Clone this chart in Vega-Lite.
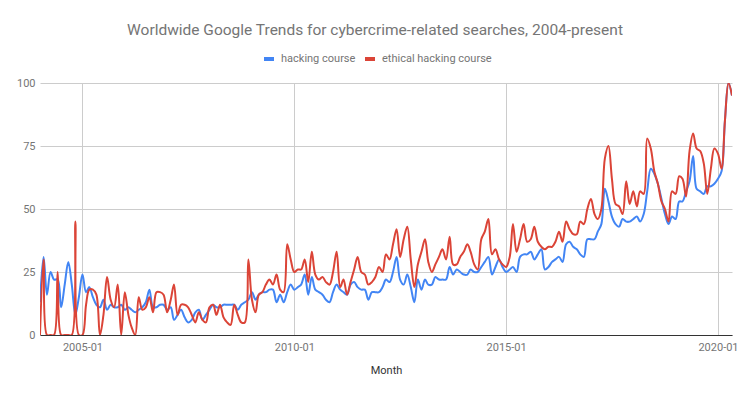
{
  "$schema": "https://vega.github.io/schema/vega-lite/v6.json",
  "width": 692,
  "height": 252,
  "autosize": {"type": "none"},
  "padding": {"left": 40, "top": 83, "right": 18, "bottom": 62},
  "background": "white",
  "title": {
    "text": "Worldwide Google Trends for cybercrime-related searches, 2004-present",
    "font": "Roboto",
    "fontSize": 15.5,
    "fontWeight": "normal",
    "color": "#757575",
    "anchor": "middle",
    "dx": -11,
    "offset": 14
  },
  "data": {
    "values": [
      {"month": "2004-01-01", "hacking course": 13, "ethical hacking course": 0},
      {"month": "2004-02-01", "hacking course": 31, "ethical hacking course": 30},
      {"month": "2004-03-01", "hacking course": 16, "ethical hacking course": 0},
      {"month": "2004-04-01", "hacking course": 25, "ethical hacking course": 0},
      {"month": "2004-05-01", "hacking course": 22, "ethical hacking course": 0},
      {"month": "2004-06-01", "hacking course": 22, "ethical hacking course": 25},
      {"month": "2004-07-01", "hacking course": 11, "ethical hacking course": 0},
      {"month": "2004-08-01", "hacking course": 20, "ethical hacking course": 0},
      {"month": "2004-09-01", "hacking course": 29, "ethical hacking course": 0},
      {"month": "2004-10-01", "hacking course": 20, "ethical hacking course": 0},
      {"month": "2004-11-01", "hacking course": 8, "ethical hacking course": 45},
      {"month": "2004-12-01", "hacking course": 15, "ethical hacking course": 0},
      {"month": "2005-01-01", "hacking course": 24, "ethical hacking course": 0},
      {"month": "2005-02-01", "hacking course": 17, "ethical hacking course": 12},
      {"month": "2005-03-01", "hacking course": 19, "ethical hacking course": 18},
      {"month": "2005-04-01", "hacking course": 15, "ethical hacking course": 18},
      {"month": "2005-05-01", "hacking course": 12, "ethical hacking course": 16},
      {"month": "2005-06-01", "hacking course": 11, "ethical hacking course": 0},
      {"month": "2005-07-01", "hacking course": 14, "ethical hacking course": 8},
      {"month": "2005-08-01", "hacking course": 10, "ethical hacking course": 23},
      {"month": "2005-09-01", "hacking course": 12, "ethical hacking course": 14},
      {"month": "2005-10-01", "hacking course": 11, "ethical hacking course": 11},
      {"month": "2005-11-01", "hacking course": 11, "ethical hacking course": 20},
      {"month": "2005-12-01", "hacking course": 12, "ethical hacking course": 0},
      {"month": "2006-01-01", "hacking course": 10, "ethical hacking course": 17},
      {"month": "2006-02-01", "hacking course": 11, "ethical hacking course": 8},
      {"month": "2006-03-01", "hacking course": 10, "ethical hacking course": 3},
      {"month": "2006-04-01", "hacking course": 9, "ethical hacking course": 0},
      {"month": "2006-05-01", "hacking course": 10, "ethical hacking course": 15},
      {"month": "2006-06-01", "hacking course": 11, "ethical hacking course": 10},
      {"month": "2006-07-01", "hacking course": 13, "ethical hacking course": 11},
      {"month": "2006-08-01", "hacking course": 18, "ethical hacking course": 15},
      {"month": "2006-09-01", "hacking course": 11, "ethical hacking course": 9},
      {"month": "2006-10-01", "hacking course": 11, "ethical hacking course": 17},
      {"month": "2006-11-01", "hacking course": 12, "ethical hacking course": 17},
      {"month": "2006-12-01", "hacking course": 12, "ethical hacking course": 16},
      {"month": "2007-01-01", "hacking course": 10, "ethical hacking course": 9},
      {"month": "2007-02-01", "hacking course": 11, "ethical hacking course": 14},
      {"month": "2007-03-01", "hacking course": 6, "ethical hacking course": 20},
      {"month": "2007-04-01", "hacking course": 8, "ethical hacking course": 8},
      {"month": "2007-05-01", "hacking course": 10, "ethical hacking course": 12},
      {"month": "2007-06-01", "hacking course": 7, "ethical hacking course": 12},
      {"month": "2007-07-01", "hacking course": 5, "ethical hacking course": 11},
      {"month": "2007-08-01", "hacking course": 6, "ethical hacking course": 8},
      {"month": "2007-09-01", "hacking course": 9, "ethical hacking course": 5},
      {"month": "2007-10-01", "hacking course": 10, "ethical hacking course": 9},
      {"month": "2007-11-01", "hacking course": 6, "ethical hacking course": 6},
      {"month": "2007-12-01", "hacking course": 8, "ethical hacking course": 5},
      {"month": "2008-01-01", "hacking course": 10, "ethical hacking course": 11},
      {"month": "2008-02-01", "hacking course": 12, "ethical hacking course": 12},
      {"month": "2008-03-01", "hacking course": 11, "ethical hacking course": 8},
      {"month": "2008-04-01", "hacking course": 11, "ethical hacking course": 12},
      {"month": "2008-05-01", "hacking course": 12, "ethical hacking course": 7},
      {"month": "2008-06-01", "hacking course": 12, "ethical hacking course": 5},
      {"month": "2008-07-01", "hacking course": 12, "ethical hacking course": 4},
      {"month": "2008-08-01", "hacking course": 12, "ethical hacking course": 12},
      {"month": "2008-09-01", "hacking course": 10, "ethical hacking course": 8},
      {"month": "2008-10-01", "hacking course": 12, "ethical hacking course": 5},
      {"month": "2008-11-01", "hacking course": 13, "ethical hacking course": 5},
      {"month": "2008-12-01", "hacking course": 14, "ethical hacking course": 30},
      {"month": "2009-01-01", "hacking course": 17, "ethical hacking course": 14},
      {"month": "2009-02-01", "hacking course": 14, "ethical hacking course": 9},
      {"month": "2009-03-01", "hacking course": 16, "ethical hacking course": 16},
      {"month": "2009-04-01", "hacking course": 17, "ethical hacking course": 17},
      {"month": "2009-05-01", "hacking course": 17, "ethical hacking course": 20},
      {"month": "2009-06-01", "hacking course": 18, "ethical hacking course": 22},
      {"month": "2009-07-01", "hacking course": 18, "ethical hacking course": 20},
      {"month": "2009-08-01", "hacking course": 13, "ethical hacking course": 24},
      {"month": "2009-09-01", "hacking course": 16, "ethical hacking course": 18},
      {"month": "2009-10-01", "hacking course": 13, "ethical hacking course": 17},
      {"month": "2009-11-01", "hacking course": 17, "ethical hacking course": 36},
      {"month": "2009-12-01", "hacking course": 20, "ethical hacking course": 30},
      {"month": "2010-01-01", "hacking course": 18, "ethical hacking course": 25},
      {"month": "2010-02-01", "hacking course": 19, "ethical hacking course": 26},
      {"month": "2010-03-01", "hacking course": 20, "ethical hacking course": 26},
      {"month": "2010-04-01", "hacking course": 24, "ethical hacking course": 30},
      {"month": "2010-05-01", "hacking course": 16, "ethical hacking course": 21},
      {"month": "2010-06-01", "hacking course": 23, "ethical hacking course": 33},
      {"month": "2010-07-01", "hacking course": 18, "ethical hacking course": 24},
      {"month": "2010-08-01", "hacking course": 17, "ethical hacking course": 22},
      {"month": "2010-09-01", "hacking course": 16, "ethical hacking course": 23},
      {"month": "2010-10-01", "hacking course": 14, "ethical hacking course": 21},
      {"month": "2010-11-01", "hacking course": 13, "ethical hacking course": 20},
      {"month": "2010-12-01", "hacking course": 17, "ethical hacking course": 25},
      {"month": "2011-01-01", "hacking course": 20, "ethical hacking course": 33},
      {"month": "2011-02-01", "hacking course": 18, "ethical hacking course": 19},
      {"month": "2011-03-01", "hacking course": 17, "ethical hacking course": 22},
      {"month": "2011-04-01", "hacking course": 16, "ethical hacking course": 16},
      {"month": "2011-05-01", "hacking course": 20, "ethical hacking course": 21},
      {"month": "2011-06-01", "hacking course": 21, "ethical hacking course": 26},
      {"month": "2011-07-01", "hacking course": 19, "ethical hacking course": 31},
      {"month": "2011-08-01", "hacking course": 18, "ethical hacking course": 25},
      {"month": "2011-09-01", "hacking course": 18, "ethical hacking course": 24},
      {"month": "2011-10-01", "hacking course": 14, "ethical hacking course": 20},
      {"month": "2011-11-01", "hacking course": 17, "ethical hacking course": 21},
      {"month": "2011-12-01", "hacking course": 17, "ethical hacking course": 23},
      {"month": "2012-01-01", "hacking course": 17, "ethical hacking course": 27},
      {"month": "2012-02-01", "hacking course": 19, "ethical hacking course": 25},
      {"month": "2012-03-01", "hacking course": 22, "ethical hacking course": 32},
      {"month": "2012-04-01", "hacking course": 21, "ethical hacking course": 30},
      {"month": "2012-05-01", "hacking course": 25, "ethical hacking course": 36},
      {"month": "2012-06-01", "hacking course": 31, "ethical hacking course": 42},
      {"month": "2012-07-01", "hacking course": 22, "ethical hacking course": 31},
      {"month": "2012-08-01", "hacking course": 20, "ethical hacking course": 38},
      {"month": "2012-09-01", "hacking course": 24, "ethical hacking course": 43},
      {"month": "2012-10-01", "hacking course": 19, "ethical hacking course": 30},
      {"month": "2012-11-01", "hacking course": 13, "ethical hacking course": 19},
      {"month": "2012-12-01", "hacking course": 22, "ethical hacking course": 28},
      {"month": "2013-01-01", "hacking course": 18, "ethical hacking course": 33},
      {"month": "2013-02-01", "hacking course": 22, "ethical hacking course": 38},
      {"month": "2013-03-01", "hacking course": 20, "ethical hacking course": 29},
      {"month": "2013-04-01", "hacking course": 20, "ethical hacking course": 25},
      {"month": "2013-05-01", "hacking course": 23, "ethical hacking course": 28},
      {"month": "2013-06-01", "hacking course": 22, "ethical hacking course": 31},
      {"month": "2013-07-01", "hacking course": 22, "ethical hacking course": 34},
      {"month": "2013-08-01", "hacking course": 22, "ethical hacking course": 30},
      {"month": "2013-09-01", "hacking course": 27, "ethical hacking course": 39},
      {"month": "2013-10-01", "hacking course": 24, "ethical hacking course": 28},
      {"month": "2013-11-01", "hacking course": 26, "ethical hacking course": 28},
      {"month": "2013-12-01", "hacking course": 25, "ethical hacking course": 31},
      {"month": "2014-01-01", "hacking course": 24, "ethical hacking course": 33},
      {"month": "2014-02-01", "hacking course": 24, "ethical hacking course": 36},
      {"month": "2014-03-01", "hacking course": 26, "ethical hacking course": 33},
      {"month": "2014-04-01", "hacking course": 25, "ethical hacking course": 28},
      {"month": "2014-05-01", "hacking course": 25, "ethical hacking course": 26},
      {"month": "2014-06-01", "hacking course": 27, "ethical hacking course": 38},
      {"month": "2014-07-01", "hacking course": 29, "ethical hacking course": 41},
      {"month": "2014-08-01", "hacking course": 31, "ethical hacking course": 46},
      {"month": "2014-09-01", "hacking course": 24, "ethical hacking course": 32},
      {"month": "2014-10-01", "hacking course": 27, "ethical hacking course": 34},
      {"month": "2014-11-01", "hacking course": 30, "ethical hacking course": 30},
      {"month": "2014-12-01", "hacking course": 27, "ethical hacking course": 28},
      {"month": "2015-01-01", "hacking course": 25, "ethical hacking course": 27},
      {"month": "2015-02-01", "hacking course": 26, "ethical hacking course": 31},
      {"month": "2015-03-01", "hacking course": 27, "ethical hacking course": 44},
      {"month": "2015-04-01", "hacking course": 25, "ethical hacking course": 33},
      {"month": "2015-05-01", "hacking course": 31, "ethical hacking course": 38},
      {"month": "2015-06-01", "hacking course": 32, "ethical hacking course": 44},
      {"month": "2015-07-01", "hacking course": 32, "ethical hacking course": 37},
      {"month": "2015-08-01", "hacking course": 33, "ethical hacking course": 38},
      {"month": "2015-09-01", "hacking course": 30, "ethical hacking course": 43},
      {"month": "2015-10-01", "hacking course": 32, "ethical hacking course": 37},
      {"month": "2015-11-01", "hacking course": 34, "ethical hacking course": 35},
      {"month": "2015-12-01", "hacking course": 26, "ethical hacking course": 34},
      {"month": "2016-01-01", "hacking course": 27, "ethical hacking course": 35},
      {"month": "2016-02-01", "hacking course": 29, "ethical hacking course": 35},
      {"month": "2016-03-01", "hacking course": 30, "ethical hacking course": 37},
      {"month": "2016-04-01", "hacking course": 31, "ethical hacking course": 41},
      {"month": "2016-05-01", "hacking course": 29, "ethical hacking course": 37},
      {"month": "2016-06-01", "hacking course": 36, "ethical hacking course": 45},
      {"month": "2016-07-01", "hacking course": 37, "ethical hacking course": 42},
      {"month": "2016-08-01", "hacking course": 35, "ethical hacking course": 40},
      {"month": "2016-09-01", "hacking course": 34, "ethical hacking course": 40},
      {"month": "2016-10-01", "hacking course": 32, "ethical hacking course": 45},
      {"month": "2016-11-01", "hacking course": 31, "ethical hacking course": 44},
      {"month": "2016-12-01", "hacking course": 38, "ethical hacking course": 50},
      {"month": "2017-01-01", "hacking course": 38, "ethical hacking course": 54},
      {"month": "2017-02-01", "hacking course": 38, "ethical hacking course": 48},
      {"month": "2017-03-01", "hacking course": 41, "ethical hacking course": 46},
      {"month": "2017-04-01", "hacking course": 44, "ethical hacking course": 50},
      {"month": "2017-05-01", "hacking course": 58, "ethical hacking course": 70},
      {"month": "2017-06-01", "hacking course": 53, "ethical hacking course": 75},
      {"month": "2017-07-01", "hacking course": 47, "ethical hacking course": 62},
      {"month": "2017-08-01", "hacking course": 44, "ethical hacking course": 52},
      {"month": "2017-09-01", "hacking course": 43, "ethical hacking course": 51},
      {"month": "2017-10-01", "hacking course": 46, "ethical hacking course": 48},
      {"month": "2017-11-01", "hacking course": 45, "ethical hacking course": 61},
      {"month": "2017-12-01", "hacking course": 45, "ethical hacking course": 52},
      {"month": "2018-01-01", "hacking course": 46, "ethical hacking course": 57},
      {"month": "2018-02-01", "hacking course": 47, "ethical hacking course": 51},
      {"month": "2018-03-01", "hacking course": 45, "ethical hacking course": 57},
      {"month": "2018-04-01", "hacking course": 48, "ethical hacking course": 56},
      {"month": "2018-05-01", "hacking course": 57, "ethical hacking course": 78},
      {"month": "2018-06-01", "hacking course": 66, "ethical hacking course": 74},
      {"month": "2018-07-01", "hacking course": 64, "ethical hacking course": 65},
      {"month": "2018-08-01", "hacking course": 60, "ethical hacking course": 60},
      {"month": "2018-09-01", "hacking course": 54, "ethical hacking course": 53},
      {"month": "2018-10-01", "hacking course": 48, "ethical hacking course": 50},
      {"month": "2018-11-01", "hacking course": 44, "ethical hacking course": 45},
      {"month": "2018-12-01", "hacking course": 47, "ethical hacking course": 57},
      {"month": "2019-01-01", "hacking course": 46, "ethical hacking course": 56},
      {"month": "2019-02-01", "hacking course": 53, "ethical hacking course": 63},
      {"month": "2019-03-01", "hacking course": 53, "ethical hacking course": 62},
      {"month": "2019-04-01", "hacking course": 57, "ethical hacking course": 55},
      {"month": "2019-05-01", "hacking course": 61, "ethical hacking course": 73},
      {"month": "2019-06-01", "hacking course": 71, "ethical hacking course": 80},
      {"month": "2019-07-01", "hacking course": 58, "ethical hacking course": 74},
      {"month": "2019-08-01", "hacking course": 57, "ethical hacking course": 73},
      {"month": "2019-09-01", "hacking course": 56, "ethical hacking course": 68},
      {"month": "2019-10-01", "hacking course": 59, "ethical hacking course": 56},
      {"month": "2019-11-01", "hacking course": 59, "ethical hacking course": 66},
      {"month": "2019-12-01", "hacking course": 60, "ethical hacking course": 74},
      {"month": "2020-01-01", "hacking course": 62, "ethical hacking course": 72},
      {"month": "2020-02-01", "hacking course": 65, "ethical hacking course": 66},
      {"month": "2020-03-01", "hacking course": 85, "ethical hacking course": 85},
      {"month": "2020-04-01", "hacking course": 100, "ethical hacking course": 100},
      {"month": "2020-05-01", "hacking course": 95, "ethical hacking course": 95}
    ]
  },
  "transform": [
    {"fold": ["hacking course", "ethical hacking course"], "as": ["series", "value"]}
  ],
  "mark": {"type": "line", "interpolate": "catmull-rom", "strokeWidth": 2, "clip": true},
  "encoding": {
    "x": {
      "field": "month",
      "type": "temporal",
      "timeUnit": "utcyearmonth",
      "scale": {
        "domain": [
          {"year": 2004, "month": 1, "date": 1, "utc": true},
          {"year": 2020, "month": 5, "date": 1, "utc": true}
        ]
      },
      "axis": {
        "title": "Month",
        "values": [
          {"year": 2005, "month": 1, "date": 1, "utc": true},
          {"year": 2010, "month": 1, "date": 1, "utc": true},
          {"year": 2015, "month": 1, "date": 1, "utc": true},
          {"year": 2020, "month": 1, "date": 1, "utc": true}
        ],
        "format": "%Y-%m",
        "grid": true,
        "gridColor": "#cccccc",
        "gridWidth": 1,
        "domainColor": "#333333",
        "domainWidth": 1,
        "ticks": false,
        "labelFont": "Roboto",
        "labelFontSize": 11,
        "labelColor": "#757575",
        "labelPadding": 6,
        "labelFlush": false,
        "labelOverlap": false,
        "titleFont": "Roboto",
        "titleFontSize": 11,
        "titleFontWeight": "normal",
        "titleColor": "#333333",
        "titlePadding": 12
      }
    },
    "y": {
      "field": "value",
      "type": "quantitative",
      "scale": {"domain": [0, 100], "nice": false},
      "axis": {
        "title": null,
        "values": [0, 25, 50, 75, 100],
        "grid": true,
        "gridColor": "#cccccc",
        "gridWidth": 1,
        "domain": false,
        "ticks": false,
        "labelFont": "Roboto",
        "labelFontSize": 11,
        "labelColor": "#757575",
        "labelPadding": 5
      }
    },
    "color": {
      "field": "series",
      "type": "nominal",
      "scale": {
        "domain": ["hacking course", "ethical hacking course"],
        "range": ["#4285F4", "#DB4437"]
      },
      "legend": {
        "title": null,
        "orient": "none",
        "legendX": 222,
        "legendY": -31,
        "direction": "horizontal",
        "padding": 0,
        "symbolType": "stroke",
        "symbolStrokeWidth": 4,
        "symbolSize": 100,
        "labelFont": "Roboto",
        "labelFontSize": 11,
        "labelColor": "#757575",
        "labelOffset": 5,
        "columnPadding": 1
      }
    }
  },
  "config": {
    "font": "Roboto",
    "view": {"stroke": null}
  }
}
